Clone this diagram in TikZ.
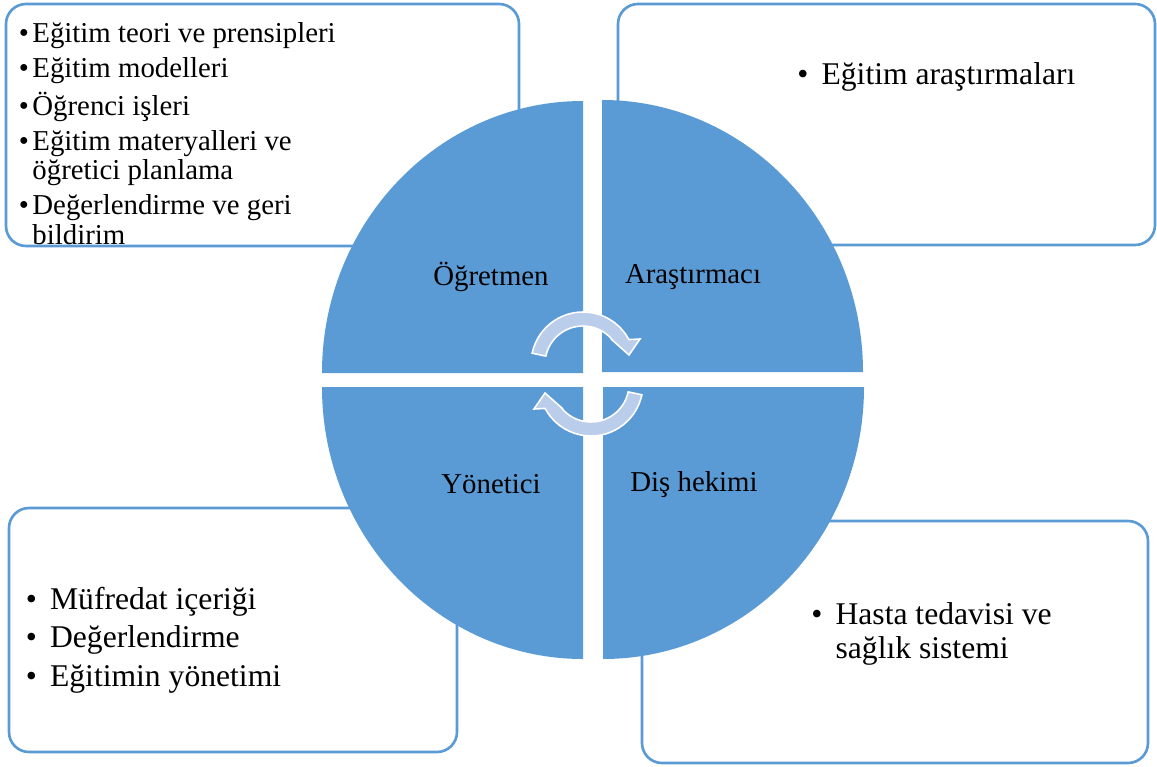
\documentclass[tikz,border=0pt]{standalone}
\usepackage{fontspec}
\setmainfont{Liberation Serif}
\definecolor{roleblue}{HTML}{5B9BD5}
\definecolor{turnblue}{HTML}{BACDEA}

\begin{document}
\begin{tikzpicture}[x=0.02cm,y=-0.02cm]
  \tikzstyle{listbox}=[draw=roleblue,line width=1.5pt,fill=white,rounded corners=0.4cm]
  \tikzstyle{quarter}=[fill=roleblue]
  \tikzstyle{role}=[font=\fontsize{16.4}{19}\selectfont,inner sep=0pt]
  \tikzstyle{items}=[anchor=base west,inner sep=0pt]
  \tikzstyle{turnarrow}=[fill=turnblue,draw=white,line width=0.9pt]
  \useasboundingbox (0,0) rectangle (1157,767);

  % boxes behind the circle
  \draw[listbox] (6,4) rectangle (519,246);
  \draw[listbox] (618,4) rectangle (1155,245);
  \draw[listbox] (9,508) rectangle (457,752);
  \draw[listbox] (642,521) rectangle (1148,763);

  % four quarters
  \fill[quarter] (583,373) -- (322,373) arc[start angle=180,end angle=270,x radius=261,y radius=272] -- cycle;
  \fill[quarter] (602,372) -- (602,100) arc[start angle=270,end angle=360,x radius=261,y radius=272] -- cycle;
  \fill[quarter] (603,387) -- (864,387) arc[start angle=0,end angle=90,x radius=261,y radius=272] -- cycle;
  \fill[quarter] (583,387) -- (583,659) arc[start angle=90,end angle=180,x radius=261,y radius=272] -- cycle;

  \node[role] (teacher) at (491,277) {Öğretmen};
  \node[role] (researcher) at (693,277) {Araştırmacı};
  \node[role] (manager) at (491,484) {Yönetici};
  \node[role] (dentist) at (694,485) {Diş hekimi};

  % the two turning arrows
  \foreach \cx/\cy/\rot in {583/364/0, 591/384/180}
  {
    \begin{scope}[shift={(\cx,\cy)},rotate=\rot]
      \filldraw[turnarrow] (192:52) arc[start angle=192,end angle=332,radius=52]
        -- (57,-25) -- (46,-9) -- (28,-25) -- (322:38)
        arc[start angle=322,end angle=192,radius=38] -- cycle;
    \end{scope}
  }

  % lists
  \node[items,font=\fontsize{16.4}{17}\selectfont] (teacherlist) at (18.5,43)
    {\begin{tabular}[t]{@{}l@{\hspace{2pt}}l@{}}
      •&Eğitim teori ve prensipleri\\[2.84pt]
      •&Eğitim modelleri\\[2.84pt]
      •&Öğrenci işleri\\[2.84pt]
      •&Eğitim materyalleri ve\\
       &öğretici planlama\\[2.84pt]
      •&Değerlendirme ve geri\\
       &bildirim
    \end{tabular}};
  \node[items,font=\fontsize{18}{21}\selectfont] (researchlist) at (797,85)
    {\begin{tabular}[t]{@{}l@{\hspace{7.5pt}}l@{}}
      •&Eğitim araştırmaları
    \end{tabular}};
  \node[items,font=\fontsize{18}{22.1}\selectfont] (managerlist) at (25.5,609)
    {\begin{tabular}[t]{@{}l@{\hspace{7.5pt}}l@{}}
      •&Müfredat içeriği\\
      •&Değerlendirme\\
      •&Eğitimin yönetimi
    \end{tabular}};
  \node[items,font=\fontsize{18}{19.8}\selectfont] (dentistlist) at (811,624)
    {\begin{tabular}[t]{@{}l@{\hspace{7.5pt}}l@{}}
      •&Hasta tedavisi ve\\
       &sağlık sistemi
    \end{tabular}};
\end{tikzpicture}
\end{document}
